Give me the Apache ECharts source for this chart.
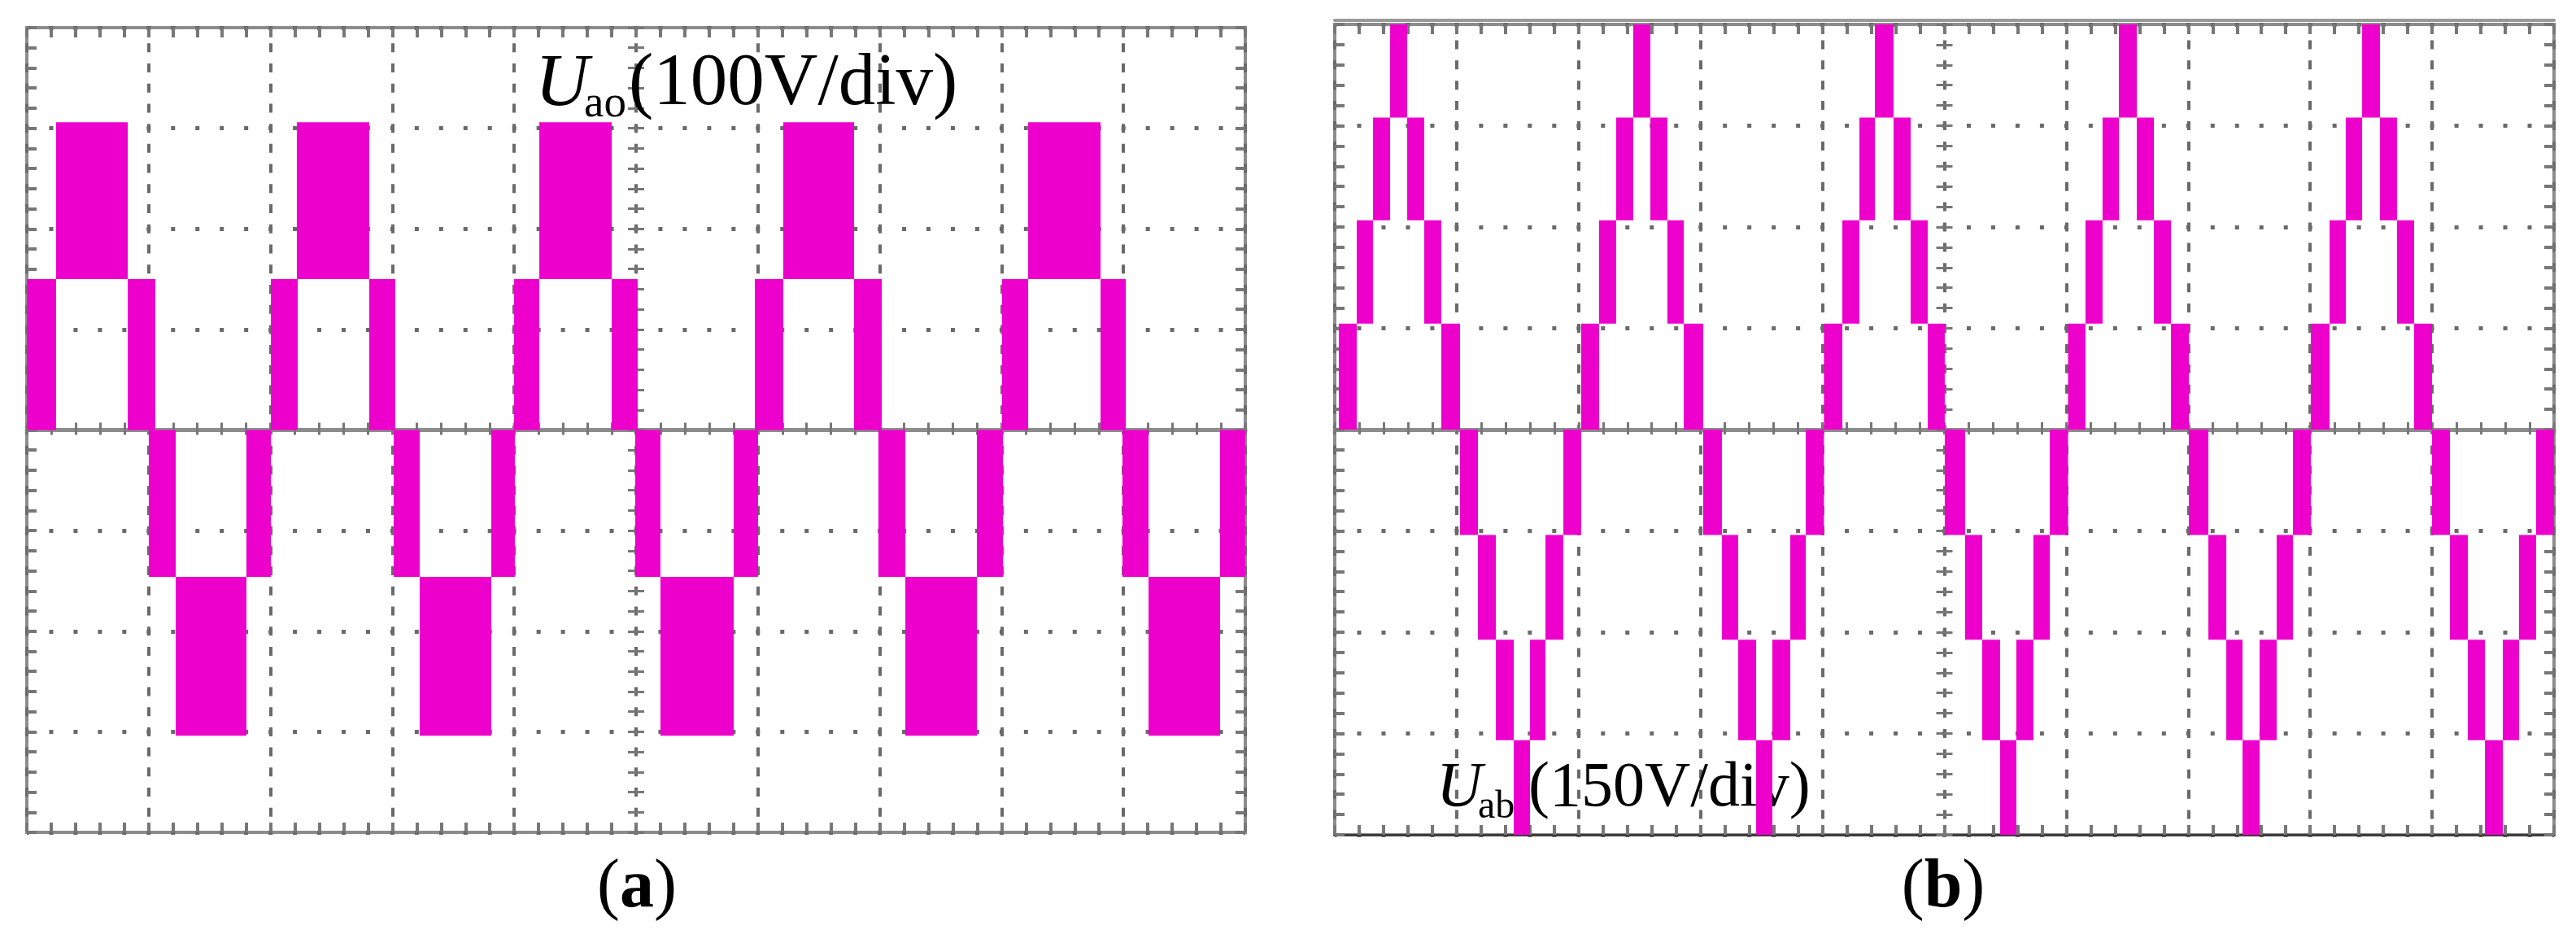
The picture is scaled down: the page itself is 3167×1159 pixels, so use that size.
<!DOCTYPE html>
<html>
<head>
<meta charset="utf-8">
<script src="https://cdn.jsdelivr.net/npm/echarts@6/dist/echarts.min.js"></script>
<style>
html,body{margin:0;padding:0;background:#fff;}
#chart{width:3167px;height:1159px;}
</style>
</head>
<body>
<div id="chart"></div>
<script>
// ---------- DATA (time in divisions, voltage in V) ----------
// Panel (a): U_ao, 100 V/div. Each segment is a switching band [low, high] over [start, end].
const aStart = [0.000, 0.240, 0.828, 1.001, 1.222, 1.802,
                2.003, 2.216, 2.810, 3.011, 3.224, 3.812,
                3.999, 4.206, 4.800, 4.993, 5.200, 5.801,
                5.975, 6.208, 6.789, 6.989, 7.210, 7.797,
                8.004, 8.218, 8.812, 8.992, 9.206, 9.793];
const aEnd   = [0.240, 0.828, 1.055, 1.222, 1.802, 2.003,
                2.223, 2.810, 3.024, 3.224, 3.812, 4.005,
                4.206, 4.800, 5.013, 5.200, 5.801, 6.001,
                6.208, 6.789, 7.016, 7.210, 7.797, 8.011,
                8.218, 8.812, 9.019, 9.206, 9.793, 10.000];
const aLow   = [0, 150, 0, -146, -304, -146,
                0, 150, 0, -146, -304, -146,
                0, 150, 0, -146, -304, -146,
                0, 150, 0, -146, -304, -146,
                0, 150, 0, -146, -304, -146];
const aHigh  = [150, 306, 150, 0, -146, 0,
                150, 306, 150, 0, -146, 0,
                150, 306, 150, 0, -146, 0,
                150, 306, 150, 0, -146, 0,
                150, 306, 150, 0, -146, 0];

// Panel (b): U_ab, 150 V/div. Staircase bars between consecutive edges.
const bEdges = [0.033, 0.180, 0.314, 0.454, 0.594, 0.734, 0.874, 1.027, 1.174, 1.321, 1.468, 1.601, 1.728, 1.875,
                2.021, 2.168, 2.308, 2.448, 2.588, 2.728, 2.862, 3.022, 3.175, 3.309, 3.456, 3.589, 3.736, 3.863,
                4.012, 4.163, 4.303, 4.430, 4.583, 4.723, 4.863, 5.003, 5.170, 5.310, 5.457, 5.590, 5.730, 5.864,
                6.014, 6.157, 6.297, 6.431, 6.578, 6.718, 6.858, 7.005, 7.165, 7.312, 7.445, 7.585, 7.725, 7.859,
                8.005, 8.159, 8.292, 8.426, 8.572, 8.712, 8.852, 8.999, 9.146, 9.293, 9.433, 9.580, 9.713, 9.853,
                10.000];
const bLevels = [-620, -460, -311, -156, 0, 157, 310, 462, 620];
// index into bLevels of each bar's lower level (bar spans that level to the next one)
const bBand = [4, 5, 6, 7, 6, 5, 4, 3, 2, 1, 0, 1, 2, 3,
               4, 5, 6, 7, 6, 5, 4, 3, 2, 1, 0, 1, 2, 3,
               4, 5, 6, 7, 6, 5, 4, 3, 2, 1, 0, 1, 2, 3,
               4, 5, 6, 7, 6, 5, 4, 3, 2, 1, 0, 1, 2, 3,
               4, 5, 6, 7, 6, 5, 4, 3, 2, 1, 0, 1, 2, 3];

const labelA = {sym: 'U', sub: 'ao', unit: '(100V/div)'};
const labelB = {sym: 'U', sub: 'ab', unit: '(150V/div)'};

// ---------- STYLE ----------
const MAG = '#EE00CC';
const FRAME = '#8c8c8c';
const TICK = '#777777';
const GRIDC = '#6a6a6a';
const SERIF = '"Liberation Serif", "Times New Roman", serif';

const G = [
  {left: 33, top: 34, width: 1498, height: 989, yMin: -400, yMax: 400, yInt: 100},
  {left: 1641, top: 30, width: 1499, height: 996, yMin: -600, yMax: 600, yInt: 150}
];

const grids = G.map(g => ({
  left: g.left, top: g.top, width: g.width, height: g.height,
  show: true, borderColor: FRAME, borderWidth: 4, backgroundColor: 'transparent',
  outerBoundsMode: 'none', containLabel: false
}));

const xAxes = [];
const yAxes = [];
const ticks = (len, inside, w) => ({
  axisTick: {show: true, inside: inside, length: len, lineStyle: {color: TICK, width: w || 4}},
  minorTick: {show: true, splitNumber: 5, length: len, lineStyle: {color: TICK, width: w || 4}}
});
const mainX = [], mainY = [];

G.forEach((g, gi) => {
  const minorH = g.height / 40, minorW = g.width / 50;
  const xBase = {gridIndex: gi, type: 'value', min: 0, max: 10, interval: 1, axisLabel: {show: false}, minorSplitLine: {show: false}};
  const yBase = {gridIndex: gi, type: 'value', min: g.yMin, max: g.yMax, interval: g.yInt, axisLabel: {show: false}, minorSplitLine: {show: false}};
  const xi = xAxes.length, yi = yAxes.length;
  mainX.push(xi); mainY.push(yi);
  // bottom frame, with dashed vertical graticule
  xAxes.push(Object.assign({}, xBase, ticks(12, true), {
    position: 'bottom',
    axisLine: {show: gi === 1, onZero: false, lineStyle: {color: '#3c3c3c', width: 3}},
    splitLine: {show: true, lineStyle: {color: GRIDC, width: 4, type: [11, minorH - 11], dashOffset: 5.5}}
  }));
  // top frame
  xAxes.push(Object.assign({}, xBase, ticks(12, true), {
    position: 'top', axisLine: {show: false, onZero: false}, splitLine: {show: false}
  }));
  // horizontal zero line with crosses
  xAxes.push(Object.assign({}, xBase, ticks(9, true, 3), {
    position: 'bottom',
    axisLine: {show: true, onZero: true, onZeroAxisIndex: yi, lineStyle: {color: FRAME, width: 5}},
    splitLine: {show: false}
  }));
  xAxes.push(Object.assign({}, xBase, ticks(6, false, 3), {
    position: 'bottom',
    axisLine: {show: false, onZero: true, onZeroAxisIndex: yi},
    splitLine: {show: false}
  }));
  // hidden centred axis used to put the vertical centre marks in the middle
  xAxes.push({gridIndex: gi, type: 'value', min: -5, max: 5, show: false, axisLine: {onZero: false}});
  if (gi === 1) {
    // double top line of panel (b)
    xAxes.push(Object.assign({}, xBase, {
      position: 'top', offset: 5,
      axisLine: {show: true, onZero: false, lineStyle: {color: '#9a9a9a', width: 4}},
      axisTick: {show: false}, splitLine: {show: false}
    }));
  }
  // left frame, with dotted horizontal graticule
  yAxes.push(Object.assign({}, yBase, ticks(12, true), {
    position: 'left', axisLine: {show: false, onZero: false},
    splitLine: {show: true, lineStyle: {color: GRIDC, width: 5, type: [5, minorW - 5], dashOffset: 2.5}}
  }));
  // right frame
  yAxes.push(Object.assign({}, yBase, ticks(12, true), {
    position: 'right', axisLine: {show: false, onZero: false}, splitLine: {show: false}
  }));
  // vertical centre line crosses
  yAxes.push(Object.assign({}, yBase, ticks(10, true, 3), {
    position: 'left', axisLine: {show: false, onZero: true, onZeroAxisIndex: xi + 4}, splitLine: {show: false}
  }));
  yAxes.push(Object.assign({}, yBase, ticks(10, false, 3), {
    position: 'left', axisLine: {show: false, onZero: true, onZeroAxisIndex: xi + 4}, splitLine: {show: false}
  }));
});

const aData = aStart.map((s, i) => [s, aEnd[i], aLow[i], aHigh[i]]);
const bData = bBand.map((k, i) => [bEdges[i], bEdges[i + 1], bLevels[k], bLevels[k + 1]]);

function renderBand(params, api) {
  const p0 = api.coord([api.value(0), api.value(3)]);
  const p1 = api.coord([api.value(1), api.value(2)]);
  const cs = params.coordSys;
  const shape = echarts.graphic.clipRectByRect(
    {x: p0[0], y: p0[1], width: p1[0] - p0[0], height: p1[1] - p0[1]},
    {x: cs.x, y: cs.y, width: cs.width, height: cs.height}
  );
  return shape && {type: 'rect', shape: shape, style: {fill: MAG}};
}

function txt(x, y, text, font, align) {
  return {
    type: 'text', x: x, y: y, z: 1, silent: true,
    style: {text: text, font: font, fill: '#000',
      align: align || 'left', verticalAlign: 'middle',
      textAlign: align || 'left', textVerticalAlign: 'middle'}
  };
}
function panelTag(x, y, letter) {
  return {
    type: 'text', x: x, y: y, z: 1, silent: true,
    style: {
      text: '{p|(}{b|' + letter + '}{p|)}',
      fill: '#000', font: '84px ' + SERIF,
      align: 'center', verticalAlign: 'middle', textAlign: 'center', textVerticalAlign: 'middle',
      rich: {
        p: {fontSize: 84, fontFamily: SERIF, fill: '#000'},
        b: {fontSize: 84, fontFamily: SERIF, fontWeight: 'bold', fill: '#000'}
      }
    }
  };
}

const option = {
  backgroundColor: '#ffffff',
  animation: false,
  grid: grids,
  xAxis: xAxes,
  yAxis: yAxes,
  series: [
    {type: 'custom', name: 'Uao', xAxisIndex: mainX[0], yAxisIndex: mainY[0], renderItem: renderBand,
     data: aData, encode: {x: [0, 1], y: [2, 3]}, z: 5, silent: true},
    {type: 'custom', name: 'Uab', xAxisIndex: mainX[1], yAxisIndex: mainY[1], renderItem: renderBand,
     data: bData, encode: {x: [0, 1], y: [2, 3]}, z: 5, silent: true}
  ],
  graphic: [
    txt(658, 105, labelA.sym, 'italic 91px ' + SERIF),
    txt(718, 129, labelA.sub, '55px ' + SERIF),
    txt(773, 104, labelA.unit, '91px ' + SERIF),
    txt(1766, 969, labelB.sym, 'italic 78px ' + SERIF),
    txt(1817, 992, labelB.sub, '48px ' + SERIF),
    txt(1879, 970, labelB.unit, '78px ' + SERIF),
    panelTag(783, 1092, 'a'),
    panelTag(2389, 1092, 'b')
  ]
};

const chart = echarts.init(document.getElementById('chart'), null, {renderer: 'canvas'});
chart.setOption(option);
</script>
</body>
</html>
